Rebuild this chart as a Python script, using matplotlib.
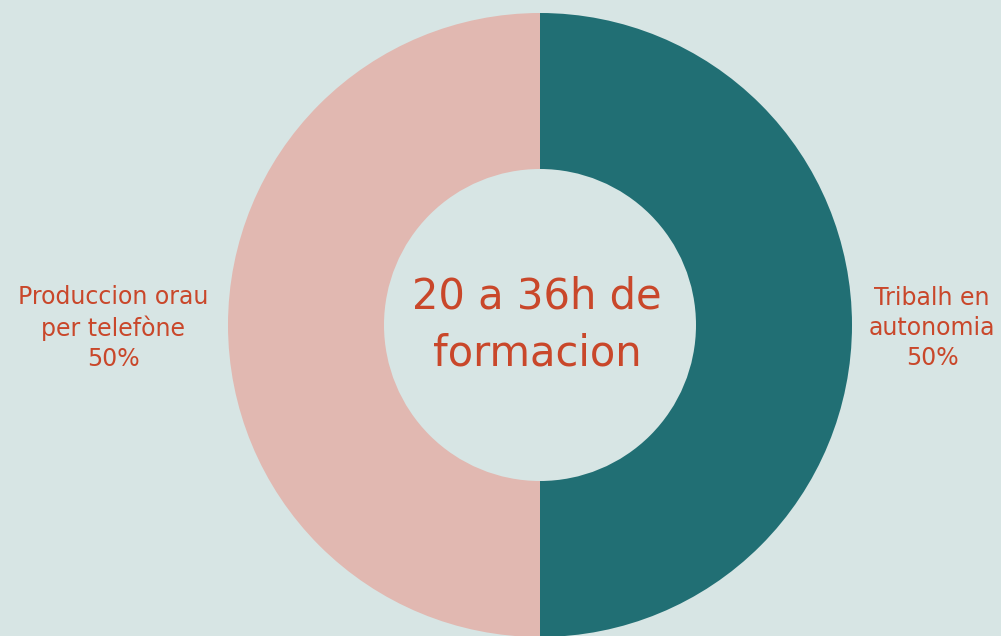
import matplotlib.pyplot as plt

labels = ['Tribalh en\nautonomia', 'Produccion orau\nper telefòne']
shares = [50, 50]
colors = ['#216f74', '#e1b8b1']
center_text = '20 a 36h de\nformacion'

bg = '#d7e5e4'
txt = '#c9472a'

fig = plt.figure(figsize=(10.01, 6.36), dpi=100, facecolor=bg)
ax = fig.add_axes([0, 0, 1, 1])
ax.set_facecolor(bg)

W, H = 1001, 636
cx, cy = 540, H - 325
R = 312

ax.pie(shares, colors=colors, startangle=90, counterclock=False,
       center=(cx, cy), radius=R,
       wedgeprops=dict(width=R * 0.5, linewidth=0))
ax.set_xlim(0, W)
ax.set_ylim(0, H)
ax.set_aspect('equal')
ax.axis('off')

ax.text(cx - 3, cy, center_text, ha='center', va='center', fontsize=30,
        color=txt, linespacing=1.45, family='DejaVu Sans')

# etiquetas de costat
pos = [(932, H - 328), (113, H - 328)]
for lab, v, (x, y) in zip(labels, shares, pos):
    ax.text(x, y, f'{lab}\n{v}%', ha='center', va='center', fontsize=17,
            color=txt, linespacing=1.3, family='DejaVu Sans')

fig.savefig('out.png', dpi=100, facecolor=bg)
